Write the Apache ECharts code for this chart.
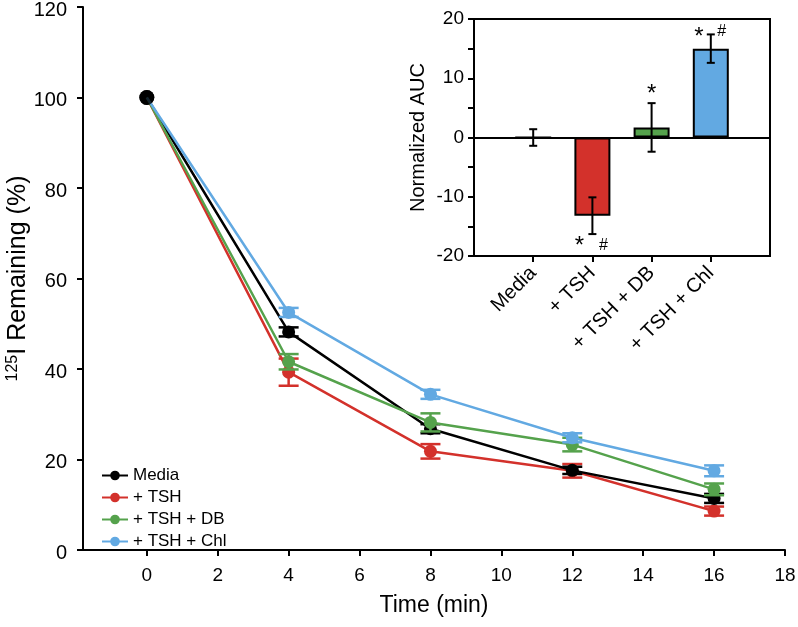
<!DOCTYPE html>
<html><head><meta charset="utf-8">
<script src="https://cdn.jsdelivr.net/npm/echarts@6/dist/echarts.min.js"></script>
<style>html,body{margin:0;padding:0;background:#fff}#c{width:798px;height:627px}</style>
</head><body><div id="c"></div>
<script>
// ---- Main chart data ----
const times = [0, 4, 8, 12, 16];
const seriesNames = ['Media', '+ TSH', '+ TSH + DB', '+ TSH + Chl'];
const mediaVals = [100, 48.2, 26.8, 17.6, 11.4];
const mediaErr  = [0, 1.0, 1.0, 0.8, 1.0];
const tshVals   = [100, 39.3, 21.8, 17.5, 8.6];
const tshErr    = [0, 3.0, 1.6, 1.5, 1.0];
const dbVals    = [100, 41.6, 28.2, 23.3, 13.4];
const dbErr     = [0, 1.7, 2.0, 1.5, 1.3];
const chlVals   = [100, 52.5, 34.4, 24.8, 17.5];
const chlErr    = [0, 1.0, 1.0, 1.0, 1.2];
const xTicks = [0, 2, 4, 6, 8, 10, 12, 14, 16, 18];

// ---- Inset data ----
const aucCats = ['', 'Media', '+ TSH', '+ TSH + DB', '+ TSH + Chl', ''];
const aucVals = [null, 0, -13.2, 1.7, 15.0, null];
const aucErr  = [null, 1.4, 3.1, 4.1, 2.4, null];
const annCat  = [3, 4, 4, 2, 2];
const annVal  = [7.3, 16.9, 17.8, -18.3, -18.2];
const annText = ['*', '*', '#', '*', '#'];

const colors = ['#000000', '#d3312b', '#55a24c', '#62a9e2'];
const FONT = '"Liberation Sans", Arial, Helvetica, sans-serif';

function errItem(color, capW, lw) {
  return function (params, api) {
    const x = api.value(0), y = api.value(1), e = api.value(2);
    if (!e) return null;
    const t = api.coord([x, y + e]), b = api.coord([x, y - e]);
    const h = capW / 2;
    const st = {stroke: color, lineWidth: lw};
    return {type: 'group', children: [
      {type: 'line', shape: {x1: t[0], y1: t[1], x2: b[0], y2: b[1]}, style: st},
      {type: 'line', shape: {x1: t[0] - h, y1: t[1], x2: t[0] + h, y2: t[1]}, style: st},
      {type: 'line', shape: {x1: b[0] - h, y1: b[1], x2: b[0] + h, y2: b[1]}, style: st}
    ]};
  };
}

const vals = [mediaVals, tshVals, dbVals, chlVals];
const errs = [mediaErr, tshErr, dbErr, chlErr];
const zs = [3, 2, 4, 5];

const series = [];
vals.forEach((v, i) => {
  series.push({
    name: seriesNames[i], type: 'line', xAxisIndex: 0, yAxisIndex: 0,
    data: times.map((t, j) => {
      const d = {value: [t, v[j]]};
      if (j === 0 && i !== 0) d.symbolSize = 0.001;
      if (j === 0 && i === 0) d.symbolSize = 15;
      return d;
    }),
    symbol: 'circle', symbolSize: 13, showSymbol: true,
    lineStyle: {color: colors[i], width: 2.5},
    itemStyle: {color: colors[i]},
    z: zs[i], animation: false
  });
  series.push({
    type: 'custom', xAxisIndex: 0, yAxisIndex: 0,
    data: times.map((t, j) => [t, v[j], errs[i][j]]),
    renderItem: errItem(colors[i], 20, 2.5), z: zs[i], animation: false, silent: true
  });
});
// start point marker drawn on top of all lines
series.push({
  type: 'scatter', xAxisIndex: 0, yAxisIndex: 0, symbol: 'circle', symbolSize: 15,
  data: [[times[0], mediaVals[0]]], itemStyle: {color: colors[0]}, z: 7, silent: true, animation: false
});

// Inset bars
series.push({
  type: 'bar', xAxisIndex: 1, yAxisIndex: 1, barWidth: 36,
  data: aucVals.map((v, i) => v === null ? '-' : {value: v, itemStyle: {color: colors[i - 1] === '#000000' ? '#ffffff' : colors[i - 1]}}),
  itemStyle: {borderColor: '#000', borderWidth: 2},
  markLine: {symbol: 'none', silent: true, label: {show: false},
    lineStyle: {color: '#000', width: 2, type: 'solid'}, data: [{yAxis: 0}]},
  animation: false, z: 2
});
series.push({
  type: 'custom', xAxisIndex: 1, yAxisIndex: 1,
  data: aucVals.map((v, i) => v === null ? [i, 0, 0] : [i, v, aucErr[i]]),
  renderItem: errItem('#000', 8, 2), z: 3, animation: false, silent: true
});
series.push({
  type: 'custom', xAxisIndex: 1, yAxisIndex: 1,
  data: annCat.map((c, i) => [c, annVal[i], i]),
  renderItem: function (params, api) {
    const i = api.value(2);
    const p = api.coord([api.value(0), api.value(1)]);
    const txt = annText[i];
    const isStar = txt === '*';
    let dx = 0;
    if (annCat[i] === 4) dx = isStar ? -12 : 11;
    if (annCat[i] === 2) dx = isStar ? -13 : 11;
    return {type: 'text', x: p[0] + dx, y: p[1], style: {
      text: txt, fill: '#000', font: (isStar ? '24px ' : '16px ') + FONT,
      align: 'center', verticalAlign: 'middle'}};
  },
  z: 4, animation: false, silent: true
});

const option = {
  backgroundColor: '#fff',
  animation: false,
  textStyle: {fontFamily: FONT},
  legend: {
    data: seriesNames, orient: 'vertical', left: 96, top: 462,
    itemGap: 5, itemWidth: 26, itemHeight: 12,
    textStyle: {fontSize: 17, color: '#000', fontFamily: FONT}
  },
  grid: [
    {left: 83, right: 13, top: 7, bottom: 77, outerBoundsMode: 'none', containLabel: false},
    {left: 474, right: 28, top: 19, bottom: 371, outerBoundsMode: 'none', containLabel: false,
     show: true, borderColor: '#000', borderWidth: 2, backgroundColor: 'rgba(255,255,255,0)', z: 10}
  ],
  xAxis: [
    {type: 'value', gridIndex: 0, min: -1.8, max: 18,
     name: 'Time (min)', nameLocation: 'middle', nameGap: 44, nameMoveOverlap: false,
     nameTextStyle: {fontSize: 23, color: '#000', fontFamily: FONT},
     axisLine: {onZero: false, lineStyle: {color: '#000', width: 2}},
     axisTick: {customValues: xTicks, length: 6, lineStyle: {color: '#000', width: 2}},
     axisLabel: {customValues: xTicks, fontSize: 19, color: '#000', margin: 16, fontFamily: FONT},
     splitLine: {show: false}},
    {type: 'category', gridIndex: 1, data: aucCats, boundaryGap: false,
     axisLine: {onZero: false, lineStyle: {color: '#000', width: 2}},
     axisTick: {interval: (idx) => idx >= 1 && idx <= 4, length: 6, lineStyle: {color: '#000', width: 2}},
     axisLabel: {interval: 0, rotate: 45, fontSize: 20, color: '#000', margin: 14, fontFamily: FONT},
     splitLine: {show: false}}
  ],
  yAxis: [
    {type: 'value', gridIndex: 0, min: 0, max: 120, interval: 20,
     name: '{sup|125}I Remaining (%)', nameLocation: 'middle', nameGap: 52, nameRotate: 90,
     nameMoveOverlap: false,
     nameTextStyle: {fontSize: 25, color: '#000', fontFamily: FONT,
       rich: {sup: {fontSize: 16, color: '#000', fontFamily: FONT, padding: [0, 0, 10, 0]}}},
     axisLine: {show: true, onZero: false, lineStyle: {color: '#000', width: 2}},
     axisTick: {show: true, length: 6, lineStyle: {color: '#000', width: 2}},
     axisLabel: {fontSize: 20, color: '#000', margin: 16, fontFamily: FONT,
       formatter: (v) => '{v|' + v + '}',
       rich: {v: {fontSize: 20, color: '#000', fontFamily: FONT, padding: [6, 0, 0, 0]}}},
     splitLine: {show: false}},
    {type: 'value', gridIndex: 1, min: -20, max: 20, interval: 5,
     name: 'Normalized AUC', nameLocation: 'middle', nameGap: 46, nameRotate: 90,
     nameMoveOverlap: false,
     nameTextStyle: {fontSize: 20, color: '#000', fontFamily: FONT},
     axisLine: {show: true, onZero: false, lineStyle: {color: '#000', width: 2}},
     axisTick: {show: true, length: 6, lineStyle: {color: '#000', width: 2}},
     axisLabel: {fontSize: 19, color: '#000', margin: 10, fontFamily: FONT,
       formatter: (v) => (v % 10 === 0 ? String(v) : '')},
     splitLine: {show: false}}
  ],
  series: series
};

const chart = echarts.init(document.getElementById('c'), null, {renderer: 'canvas'});
chart.setOption(option);
</script></body></html>
